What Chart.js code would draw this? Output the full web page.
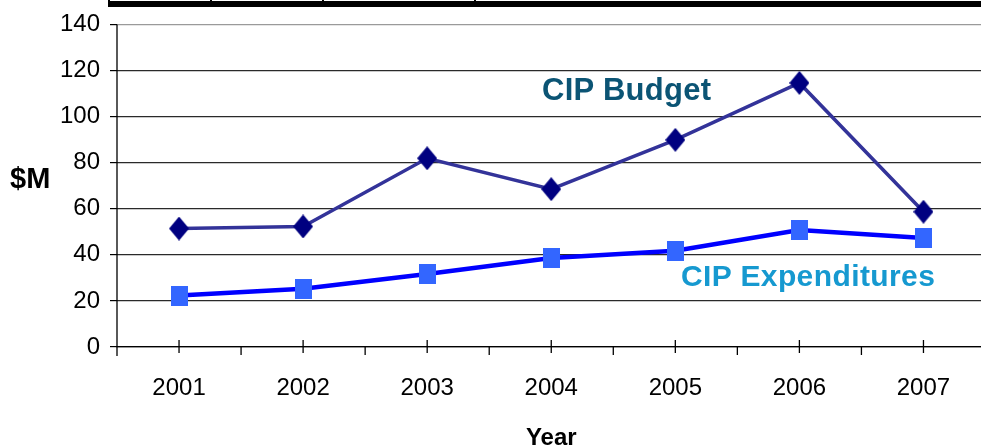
<!DOCTYPE html>
<html>
<head>
<meta charset="utf-8">
<script src="https://cdn.jsdelivr.net/npm/chart.js@4"></script>
<style>
  body { margin: 0; overflow: hidden; background: #fff; width: 981px; height: 447px; position: relative; }
  #wrap { position: absolute; left: 0; top: 0; width: 1000px; height: 447px; }
  .lbl { position: absolute; font-family: "Liberation Sans", Arial, sans-serif; font-weight: bold; white-space: nowrap; line-height: 1; }
  #topbar { position: absolute; left: 108px; top: 0; width: 873px; height: 7px; background: #000; }
  .strip { position: absolute; top: 0; height: 1px; background: #fff; }
</style>
</head>
<body>
<div id="topbar">
  <div class="strip" style="left:2px;width:100px"></div>
  <div class="strip" style="left:104px;width:110px"></div>
  <div class="strip" style="left:216px;width:150px"></div>
  <div class="strip" style="left:368px;width:505px"></div>
</div>
<div id="wrap"><canvas id="chart" width="1000" height="447"></canvas></div>
<div class="lbl" style="left:10px;top:164px;font-size:29px;color:#000">$M</div>
<div class="lbl" style="left:542px;top:74px;font-size:31px;letter-spacing:0.3px;color:#0b5474">CIP Budget</div>
<div class="lbl" style="left:681px;top:261px;font-size:30px;letter-spacing:0.4px;color:#1699d0">CIP Expenditures</div>
<script>
// values
const years = ["2001", "2002", "2003", "2004", "2005", "2006", "2007"];
const budget = [51.4, 52.3, 81.9, 68.5, 89.9, 114.6, 58.7];
const expenditures = [22.3, 25.3, 31.7, 38.6, 41.8, 50.8, 47.3];
const yTicks = [0, 20, 40, 60, 80, 100, 120, 140];

const tickFont = { family: "'Liberation Sans', Arial, sans-serif", size: 24 };

// marker shapes
function makeDiamond(w, h, color) {
  const c = document.createElement("canvas");
  c.width = w; c.height = h;
  const g = c.getContext("2d");
  g.fillStyle = color;
  g.beginPath();
  g.moveTo(w / 2, 0);
  g.lineTo(w, h / 2);
  g.lineTo(w / 2, h);
  g.lineTo(0, h / 2);
  g.closePath();
  g.fill();
  return c;
}
function makeRect(w, h, color) {
  const c = document.createElement("canvas");
  c.width = w; c.height = h;
  const g = c.getContext("2d");
  g.fillStyle = color;
  g.fillRect(0, 0, w, h);
  return c;
}
const diamond = makeDiamond(20, 24, "#000080");
const square = makeRect(17, 20, "#3366ff");

// x axis tick marks: label ticks cross the axis, minor ticks hang below
const axisTicks = {
  id: "axisTicks",
  afterDraw(chart) {
    const ctx = chart.ctx;
    const x = chart.scales.x;
    const area = chart.chartArea;
    const b = area.bottom;
    ctx.save();
    ctx.strokeStyle = "#000";
    ctx.lineWidth = 1.3;
    ctx.beginPath();
    // y axis line extends below the x axis
    ctx.moveTo(area.left, area.top);
    ctx.lineTo(area.left, b + 9);
    for (let i = 0; i < years.length; i++) {
      const px = x.getPixelForTick(i);
      ctx.moveTo(px, b - 7);
      ctx.lineTo(px, b + 6);
      if (i < years.length - 1) {
        const mid = (px + x.getPixelForTick(i + 1)) / 2;
        ctx.moveTo(mid, b);
        ctx.lineTo(mid, b + 8);
      }
    }
    ctx.stroke();
    ctx.restore();
  }
};

new Chart(document.getElementById("chart"), {
  type: "line",
  data: {
    labels: years,
    datasets: [
      {
        label: "CIP Expenditures",
        data: expenditures,
        borderColor: "#0000ff",
        borderWidth: 4.5,
        pointStyle: square,
        pointRadius: 10,
        tension: 0
      },
      {
        label: "CIP Budget",
        data: budget,
        borderColor: "#333399",
        borderWidth: 3.5,
        pointStyle: diamond,
        pointRadius: 10,
        tension: 0
      }
    ]
  },
  options: {
    responsive: false,
    animation: false,
    layout: { padding: { top: 22, right: 7.5, left: 0, bottom: 0 } },
    plugins: {
      legend: { display: false },
      tooltip: { enabled: false },
      title: { display: false }
    },
    scales: {
      x: {
        offset: true,
        grid: { display: false, drawTicks: false },
        border: { display: true, color: "#000", width: 1.3 },
        ticks: { color: "#000", font: tickFont, padding: 27 },
        title: {
          display: true,
          text: "Year",
          color: "#000",
          font: { family: tickFont.family, size: 24, weight: "bold" },
          padding: { top: 0, bottom: -6 }
        },
        afterFit(scale) { scale.height = 100; }
      },
      y: {
        min: 0,
        max: 140,
        afterBuildTicks(scale) { scale.ticks = yTicks.map(v => ({ value: v })); },
        grid: {
          color: ctx => (ctx.tick && ctx.tick.value === 140 ? "#9a9a9a" : "#2a2a2a"),
          lineWidth: 1.2,
          tickLength: 7,
          tickColor: "#000"
        },
        border: { display: false },
        ticks: { color: "#000", font: tickFont, padding: 10 },
        afterFit(scale) { scale.width = 117; }
      }
    }
  },
  plugins: [axisTicks]
});
</script>
</body>
</html>
